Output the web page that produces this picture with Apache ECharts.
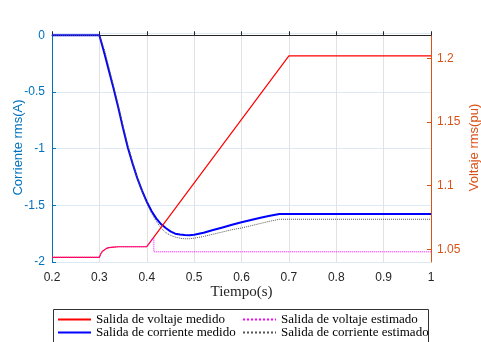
<!DOCTYPE html>
<html>
<head>
<meta charset="utf-8">
<script src="https://cdn.jsdelivr.net/npm/echarts@6/dist/echarts.min.js"></script>
<style>
  html, body { margin: 0; padding: 0; background: #fff; }
  #chart { width: 481px; height: 342px; }
</style>
</head>
<body>
<div id="chart"></div>
<script>
// tiempo (s) y voltaje (pu)
var timeV = [0.2, 0.3, 0.303, 0.306, 0.31, 0.315, 0.32, 0.33, 0.34, 0.4, 0.7, 1.0];
var voltMed = [1.0437, 1.0437, 1.0465, 1.0482, 1.0495, 1.0507, 1.0513, 1.0517, 1.052, 1.052, 1.202, 1.202];
var timeVE = [0.2, 0.3, 0.303, 0.306, 0.31, 0.315, 0.32, 0.33, 0.34, 0.4, 0.415, 0.415, 1.0];
var voltEst = [1.0437, 1.0437, 1.0465, 1.0482, 1.0495, 1.0507, 1.0513, 1.0517, 1.052, 1.052, 1.0595, 1.048, 1.048];

// corriente rms (A)
var timeC = [0.2, 0.3, 0.31, 0.32, 0.33, 0.34, 0.35, 0.36, 0.37, 0.38, 0.39, 0.4, 0.41, 0.42, 0.43, 0.44, 0.45, 0.46, 0.47, 0.48, 0.49, 0.5, 0.52, 0.54, 0.56, 0.58, 0.6, 0.62, 0.64, 0.66, 0.68, 1.0];
var corrMed = [0, 0, -0.15, -0.31, -0.47, -0.64, -0.82, -0.99, -1.13, -1.26, -1.37, -1.467, -1.55, -1.615, -1.665, -1.70, -1.73, -1.75, -1.758, -1.762, -1.763, -1.76, -1.742, -1.718, -1.695, -1.672, -1.65, -1.63, -1.61, -1.592, -1.576, -1.576];
var corrEst = [0, 0, -0.12, -0.28, -0.45, -0.62, -0.80, -0.97, -1.12, -1.26, -1.38, -1.48, -1.57, -1.64, -1.70, -1.74, -1.765, -1.78, -1.79, -1.795, -1.795, -1.79, -1.775, -1.755, -1.735, -1.715, -1.70, -1.68, -1.66, -1.64, -1.623, -1.623];

var xTicks = [0.2, 1, 0.1];
var rightTicks = [1.05, 1.1, 1.15, 1.2];

function pares(xs, ys) {
    var out = [];
    for (let i = 0; i < xs.length; i++) out.push([xs[i], ys[i]]);
    return out;
}

var azul = '#0072BD';
var naranja = '#D95319';
var serif = '"Liberation Serif", "DejaVu Serif", serif';
var sans = '"Liberation Sans", Arial, sans-serif';

var myChart = echarts.init(document.getElementById('chart'));
var leyenda = {
    orient: 'vertical', top: 313, padding: 0, itemGap: 0,
    itemWidth: 33, itemHeight: 1,
    textStyle: { fontFamily: serif, fontSize: 13, color: '#000', lineHeight: 13 }
};
var option = {
    animation: false,
    grid: { left: 52, right: 50, top: 33, bottom: 80, outerBoundsMode: 'none', containLabel: false },
    xAxis: {
        type: 'value',
        min: xTicks[0], max: xTicks[1], interval: xTicks[2],
        name: 'Tiempo(s)',
        nameLocation: 'middle',
        nameGap: 23,
        nameMoveOverlap: false,
        nameTextStyle: { fontFamily: serif, fontSize: 15, color: '#262626' },
        axisLine: { lineStyle: { color: '#262626', width: 1 } },
        axisTick: { inside: true, length: 4, lineStyle: { color: '#262626' } },
        axisLabel: { color: '#262626', fontFamily: sans, fontSize: 12, margin: 10 },
        splitLine: { show: true, lineStyle: { color: '#e2e2e2', width: 1 } }
    },
    yAxis: [
        {
            type: 'value',
            min: -2, max: 0.02, interval: 0.5,
            name: 'Corriente rms(A)',
            nameLocation: 'middle',
            nameRotate: 90,
            nameGap: 27,
            nameMoveOverlap: false,
            nameTextStyle: { fontFamily: sans, fontSize: 13, color: azul },
            axisLine: { show: true, lineStyle: { color: azul, width: 1 } },
            axisTick: { show: true, inside: true, length: 4, lineStyle: { color: azul } },
            axisLabel: { color: azul, fontFamily: sans, fontSize: 12, margin: 7, showMaxLabel: false },
            splitLine: { show: true, lineStyle: { color: '#dde9f5', width: 1 } }
        },
        {
            type: 'value',
            position: 'right',
            min: 1.04, max: 1.22,
            name: 'Voltaje rms(pu)',
            nameLocation: 'middle',
            nameRotate: 90,
            nameGap: 37,
            nameMoveOverlap: false,
            nameTextStyle: { fontFamily: sans, fontSize: 13, color: naranja },
            axisLine: { show: true, lineStyle: { color: naranja, width: 1 } },
            axisTick: { show: true, inside: true, length: 4, customValues: rightTicks, lineStyle: { color: naranja } },
            axisLabel: { color: naranja, fontFamily: sans, fontSize: 12, margin: 6, customValues: rightTicks },
            splitLine: { show: false }
        }
    ],
    legend: [
        Object.assign({ left: 57, data: ['Salida de voltaje medido', 'Salida de corriente medido'] }, leyenda),
        Object.assign({ left: 242, data: ['Salida de voltaje estimado', 'Salida de corriente estimado'] }, leyenda)
    ],
    graphic: [{
        type: 'rect',
        shape: { x: 53.5, y: 309.5, width: 375, height: 40 },
        style: { fill: 'none', stroke: '#333', lineWidth: 1 },
        silent: true
    }],
    series: [
        {
            name: 'Salida de corriente medido', type: 'line', yAxisIndex: 0,
            symbol: 'none',
            lineStyle: { color: '#0000FF', width: 2 }, itemStyle: { color: '#0000FF' },
            data: pares(timeC, corrMed)
        },
        {
            name: 'Salida de corriente estimado', type: 'line', yAxisIndex: 0,
            symbol: 'none',
            lineStyle: { color: '#555', width: 1, type: 'dotted' }, itemStyle: { color: '#555' },
            data: pares(timeC, corrEst)
        },
        {
            name: 'Salida de voltaje medido', type: 'line', yAxisIndex: 1,
            symbol: 'none',
            lineStyle: { color: '#FF0000', width: 1.2 }, itemStyle: { color: '#FF0000' },
            data: pares(timeV, voltMed)
        },
        {
            name: 'Salida de voltaje estimado', type: 'line', yAxisIndex: 1,
            symbol: 'none',
            lineStyle: { color: '#FF00FF', width: 1, type: 'dotted' }, itemStyle: { color: '#FF00FF' },
            data: pares(timeVE, voltEst)
        }
    ]
};
myChart.setOption(option);
</script>
</body>
</html>
